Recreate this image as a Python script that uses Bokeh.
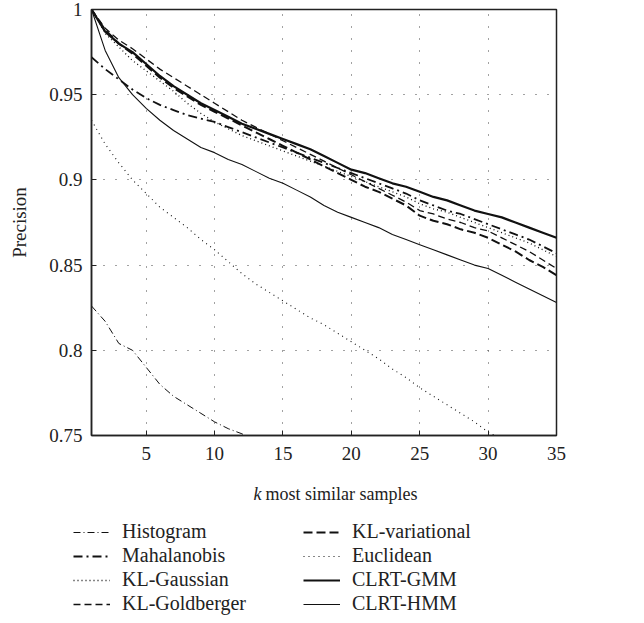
from bokeh.plotting import figure
from bokeh.layouts import column
from bokeh.models import Legend, LegendItem, FixedTicker, Label, Range1d
from bokeh.embed import file_html
from bokeh.resources import INLINE

k = list(range(1, 36))

histogram_k = list(range(1, 14))
histogram = [0.826, 0.817, 0.804, 0.800, 0.790, 0.780, 0.773, 0.768, 0.763, 0.758,
             0.754, 0.751, 0.747]

mahalanobis = [0.972, 0.965, 0.959, 0.953, 0.948, 0.944, 0.941, 0.938, 0.936, 0.934,
               0.931, 0.928, 0.925, 0.922, 0.919, 0.916, 0.913, 0.910, 0.907, 0.904,
               0.901, 0.898, 0.895, 0.892, 0.888, 0.885, 0.882, 0.880, 0.877, 0.874,
               0.871, 0.868, 0.865, 0.861, 0.857]

kl_gaussian = [1.000, 0.986, 0.978, 0.970, 0.964, 0.958, 0.952, 0.945, 0.939, 0.934,
               0.930, 0.926, 0.923, 0.920, 0.917, 0.914, 0.911, 0.908, 0.905, 0.902,
               0.899, 0.896, 0.893, 0.890, 0.886, 0.883, 0.881, 0.878, 0.875, 0.872,
               0.869, 0.866, 0.863, 0.859, 0.855]

kl_goldberger = [1.000, 0.989, 0.982, 0.977, 0.971, 0.965, 0.960, 0.955, 0.950, 0.945,
                 0.940, 0.935, 0.931, 0.927, 0.923, 0.919, 0.915, 0.911, 0.907, 0.903,
                 0.899, 0.895, 0.891, 0.887, 0.882, 0.880, 0.877, 0.875, 0.872, 0.870,
                 0.866, 0.862, 0.858, 0.853, 0.848]

kl_variational = [1.000, 0.988, 0.980, 0.974, 0.967, 0.960, 0.954, 0.949, 0.944, 0.940,
                  0.936, 0.932, 0.928, 0.924, 0.920, 0.916, 0.912, 0.908, 0.904, 0.900,
                  0.896, 0.893, 0.889, 0.885, 0.879, 0.876, 0.874, 0.871, 0.869, 0.866,
                  0.862, 0.858, 0.853, 0.849, 0.844]

euclidean_k = list(range(1, 32))
euclidean = [0.935, 0.921, 0.910, 0.900, 0.892, 0.884, 0.878, 0.872, 0.865, 0.859,
             0.852, 0.845, 0.839, 0.834, 0.829, 0.824, 0.819, 0.815, 0.810, 0.805,
             0.800, 0.795, 0.789, 0.784, 0.778, 0.773, 0.768, 0.763, 0.758, 0.752,
             0.748]

clrt_gmm = [1.000, 0.987, 0.980, 0.975, 0.968, 0.961, 0.955, 0.950, 0.945, 0.941,
            0.937, 0.933, 0.930, 0.927, 0.924, 0.921, 0.918, 0.914, 0.910, 0.906,
            0.904, 0.901, 0.898, 0.896, 0.893, 0.890, 0.888, 0.885, 0.882, 0.880,
            0.878, 0.875, 0.872, 0.869, 0.866]

clrt_hmm = [1.000, 0.976, 0.960, 0.950, 0.942, 0.935, 0.929, 0.924, 0.919, 0.916,
            0.912, 0.909, 0.905, 0.901, 0.898, 0.894, 0.890, 0.885, 0.881, 0.878,
            0.875, 0.872, 0.868, 0.865, 0.862, 0.859, 0.856, 0.853, 0.850, 0.848,
            0.844, 0.840, 0.836, 0.832, 0.828]

x_ticks = [5, 10, 15, 20, 25, 30, 35]
y_ticks = [0.75, 0.8, 0.85, 0.9, 0.95, 1.0]
y_tick_labels = ["0.75", "0.8", "0.85", "0.9", "0.95", "1"]

FONT = "Liberation Serif"
INK = "#222222"

W = 636
p = figure(width=W, height=466, output_backend="svg", toolbar_location=None,
           x_range=Range1d(1, 35), y_range=Range1d(0.75, 1.0),
           min_border_left=91, min_border_right=W - 556, min_border_top=9,
           min_border_bottom=31)
p.background_fill_color = "white"
p.border_fill_color = "white"
p.outline_line_color = INK
p.outline_line_width = 1.5

for g in (p.xgrid, p.ygrid):
    g.grid_line_color = "#444444"
    g.grid_line_dash = "1 11"
    g.grid_line_width = 1

p.xaxis.ticker = FixedTicker(ticks=x_ticks)
p.yaxis.ticker = FixedTicker(ticks=y_ticks)
p.yaxis.major_label_overrides = {t: l for t, l in zip(y_ticks, y_tick_labels)}
for ax in (p.xaxis, p.yaxis):
    ax.axis_line_color = INK
    ax.axis_line_width = 1.5
    ax.major_tick_in = 5
    ax.major_tick_out = 0
    ax.minor_tick_line_color = None
    ax.major_tick_line_color = INK
    ax.major_label_text_font = FONT
    ax.major_label_text_font_size = "19px"
    ax.major_label_text_color = INK
    ax.axis_label_text_font = FONT
    ax.axis_label_text_font_size = "19px"
    ax.axis_label_text_font_style = "normal"
    ax.axis_label_text_color = INK
p.yaxis.axis_label = "Precision"
p.yaxis.major_label_standoff = 9
p.yaxis.axis_label_standoff = 16
p.xaxis.major_label_standoff = 11

styles = [
    ("Histogram", histogram_k, histogram, dict(line_width=1, line_dash="7 3 1 3")),
    ("Mahalanobis", k, mahalanobis, dict(line_width=1.8, line_dash="9 4 2 4")),
    ("KL-Gaussian", k, kl_gaussian, dict(line_width=1.3, line_dash="1 3")),
    ("KL-Goldberger", k, kl_goldberger, dict(line_width=1.3, line_dash="7 4")),
    ("KL-variational", k, kl_variational, dict(line_width=2.0, line_dash="9 4")),
    ("Euclidean", euclidean_k, euclidean, dict(line_width=1.1, line_dash="1 4")),
    ("CLRT-GMM", k, clrt_gmm, dict(line_width=2.2)),
    ("CLRT-HMM", k, clrt_hmm, dict(line_width=1.1)),
]

for name, xs, ys, st in styles:
    p.line(xs, ys, line_color="#111111", **st)

# second figure: x-axis title and legend
LH = 149
q = figure(width=W, height=LH, output_backend="svg", toolbar_location=None,
           x_range=Range1d(0, W), y_range=Range1d(0, LH),
           x_axis_type=None, y_axis_type=None,
           min_border_left=0, min_border_right=0, min_border_top=0, min_border_bottom=0)
try:
    q.frame_align = False
except Exception:
    pass
q.outline_line_color = None
q.xgrid.visible = False
q.ygrid.visible = False
q.background_fill_color = "white"
q.border_fill_color = "white"

items = []
for name, xs, ys, st in styles:
    r = q.line([-100, -90], [-100, -100], line_color="#111111", **st)
    items.append(LegendItem(label=name, renderers=[r]))

legend = Legend(items=items, ncols=2, location=(73, 0),
                label_text_font=FONT, label_text_font_size="20px", label_text_color=INK,
                glyph_width=37, glyph_height=20, label_height=20, spacing=1,
                label_standoff=12, label_width=180, padding=0, margin=0,
                border_line_color=None, background_fill_alpha=0)
q.add_layout(legend)

q.add_layout(Label(x=253, y=LH - 27, text="k", text_font=FONT, text_font_size="18px",
                   text_font_style="italic", text_color=INK,
                   text_align="left", text_baseline="middle"))
q.add_layout(Label(x=265, y=LH - 27, text="most similar samples", text_font=FONT,
                   text_font_size="18px", text_color=INK,
                   text_align="left", text_baseline="middle"))

layout = column(p, q, spacing=0)
open("out.html", "w").write(file_html(layout, INLINE))
